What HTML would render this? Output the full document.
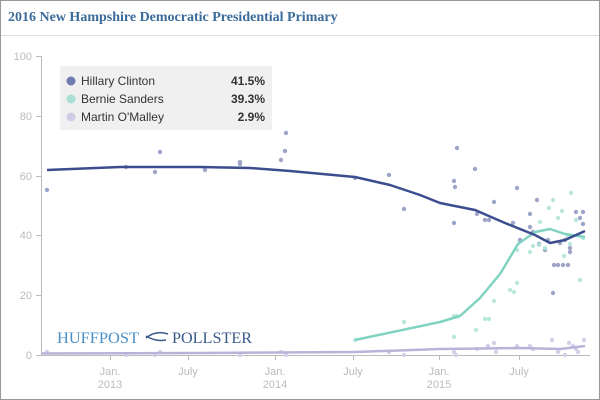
<!DOCTYPE html><html><head><style>
body{margin:0;background:#fff}
svg{display:block;font-family:"Liberation Sans",sans-serif}
</style></head><body>
<svg width="600" height="400" viewBox="0 0 600 400">
<rect x="0.5" y="0.5" width="599" height="399" fill="#fff" stroke="#999"/>
<text x="8" y="21" font-family="Liberation Serif,serif" font-weight="bold" font-size="14" fill="#3a6b9a">2016 New Hampshire Democratic Presidential Primary</text>
<line x1="1" y1="35.5" x2="599" y2="35.5" stroke="#ddd"/>
<g stroke="#bbb" fill="none">
<line x1="41.5" y1="56" x2="41.5" y2="355"/>
<line x1="36" y1="56.5" x2="41" y2="56.5"/><line x1="36" y1="116.5" x2="41" y2="116.5"/><line x1="36" y1="176.5" x2="41" y2="176.5"/><line x1="36" y1="235.5" x2="41" y2="235.5"/><line x1="36" y1="295.5" x2="41" y2="295.5"/>
<line x1="36" y1="355.5" x2="590" y2="355.5"/>
<line x1="110.5" y1="355" x2="110.5" y2="360"/><line x1="188.5" y1="355" x2="188.5" y2="360"/><line x1="275.5" y1="355" x2="275.5" y2="360"/><line x1="353.5" y1="355" x2="353.5" y2="360"/><line x1="439.5" y1="355" x2="439.5" y2="360"/><line x1="519.5" y1="355" x2="519.5" y2="360"/>
</g>
<g font-size="11" fill="#bbb" text-anchor="end">
<text x="32" y="60">100</text><text x="32" y="120">80</text><text x="32" y="180">60</text><text x="32" y="239">40</text><text x="32" y="299">20</text><text x="32" y="359">0</text>
</g>
<g font-size="11" fill="#bbb" text-anchor="middle">
<text x="110" y="375">Jan.</text><text x="110" y="388">2013</text>
<text x="188" y="375">July</text>
<text x="275" y="375">Jan.</text><text x="275" y="388">2014</text>
<text x="353" y="375">July</text>
<text x="439" y="375">Jan.</text><text x="439" y="388">2015</text>
<text x="519" y="375">July</text>
</g>
<text x="57" y="343" font-family="Liberation Serif,serif" font-size="16" fill="#4a90c8" textLength="82" lengthAdjust="spacingAndGlyphs">HUFFPOST</text>
<text x="172" y="343" font-family="Liberation Serif,serif" font-size="16" fill="#3a5a8a" textLength="80" lengthAdjust="spacingAndGlyphs">POLLSTER</text>
<path d="M146 338 q10 -8 22 -4 M146 336 q10 6 20 4" stroke="#3a5a8a" fill="none" stroke-width="1.5"/>
<g fill="#8e96c0" opacity="0.85">
<circle cx="47" cy="190" r="2.2"/><circle cx="126" cy="167" r="2.2"/><circle cx="155" cy="172" r="2.2"/><circle cx="160" cy="152" r="2.2"/><circle cx="205" cy="170" r="2.2"/><circle cx="240" cy="164" r="2.2"/><circle cx="240" cy="162" r="2.2"/><circle cx="281" cy="160" r="2.2"/><circle cx="286" cy="133" r="2.2"/><circle cx="285" cy="151" r="2.2"/><circle cx="355" cy="178" r="2.2"/><circle cx="389" cy="175" r="2.2"/><circle cx="404" cy="209" r="2.2"/><circle cx="454" cy="181" r="2.2"/><circle cx="455" cy="187" r="2.2"/><circle cx="457" cy="148" r="2.2"/><circle cx="454" cy="223" r="2.2"/><circle cx="475" cy="169" r="2.2"/><circle cx="494" cy="202" r="2.2"/><circle cx="477" cy="214" r="2.2"/><circle cx="485" cy="220" r="2.2"/><circle cx="489" cy="220" r="2.2"/><circle cx="517" cy="188" r="2.2"/><circle cx="530" cy="214" r="2.2"/><circle cx="530" cy="227" r="2.2"/><circle cx="533" cy="232" r="2.2"/><circle cx="513" cy="223" r="2.2"/><circle cx="539" cy="244" r="2.2"/><circle cx="545" cy="250" r="2.2"/><circle cx="548" cy="240" r="2.2"/><circle cx="554" cy="265" r="2.2"/><circle cx="553" cy="293" r="2.2"/><circle cx="558" cy="265" r="2.2"/><circle cx="563" cy="265" r="2.2"/><circle cx="568" cy="265" r="2.2"/><circle cx="570" cy="248" r="2.2"/><circle cx="570" cy="236" r="2.2"/><circle cx="576" cy="212" r="2.2"/><circle cx="583" cy="212" r="2.2"/><circle cx="580" cy="218" r="2.2"/><circle cx="583" cy="224" r="2.2"/><circle cx="570" cy="252" r="2.2"/><circle cx="565" cy="240" r="2.2"/><circle cx="537" cy="200" r="2.2"/><circle cx="520" cy="240" r="2.2"/><circle cx="560" cy="243" r="2.2"/></g>
<g fill="#b2e5da" opacity="0.9">
<circle cx="355" cy="340" r="2.2"/><circle cx="404" cy="322" r="2.2"/><circle cx="454" cy="316" r="2.2"/><circle cx="457" cy="316" r="2.2"/><circle cx="454" cy="337" r="2.2"/><circle cx="476" cy="330" r="2.2"/><circle cx="485" cy="319" r="2.2"/><circle cx="489" cy="319" r="2.2"/><circle cx="494" cy="301" r="2.2"/><circle cx="510" cy="290" r="2.2"/><circle cx="514" cy="292" r="2.2"/><circle cx="517" cy="283" r="2.2"/><circle cx="517" cy="250" r="2.2"/><circle cx="530" cy="252" r="2.2"/><circle cx="533" cy="246" r="2.2"/><circle cx="539" cy="245" r="2.2"/><circle cx="540" cy="222" r="2.2"/><circle cx="549" cy="208" r="2.2"/><circle cx="553" cy="200" r="2.2"/><circle cx="558" cy="218" r="2.2"/><circle cx="562" cy="211" r="2.2"/><circle cx="564" cy="256" r="2.2"/><circle cx="568" cy="236" r="2.2"/><circle cx="570" cy="244" r="2.2"/><circle cx="571" cy="193" r="2.2"/><circle cx="576" cy="220" r="2.2"/><circle cx="580" cy="280" r="2.2"/><circle cx="583" cy="238" r="2.2"/><circle cx="545" cy="248" r="2.2"/></g>
<g fill="#d4d0e8">
<circle cx="47" cy="352" r="2.2"/><circle cx="126" cy="355" r="2.2"/><circle cx="155" cy="355" r="2.2"/><circle cx="160" cy="352" r="2.2"/><circle cx="240" cy="355" r="2.2"/><circle cx="281" cy="352" r="2.2"/><circle cx="286" cy="355" r="2.2"/><circle cx="389" cy="352" r="2.2"/><circle cx="404" cy="355" r="2.2"/><circle cx="454" cy="352" r="2.2"/><circle cx="456" cy="355" r="2.2"/><circle cx="477" cy="349" r="2.2"/><circle cx="488" cy="346" r="2.2"/><circle cx="494" cy="343" r="2.2"/><circle cx="496" cy="352" r="2.2"/><circle cx="517" cy="346" r="2.2"/><circle cx="530" cy="346" r="2.2"/><circle cx="533" cy="349" r="2.2"/><circle cx="552" cy="340" r="2.2"/><circle cx="558" cy="352" r="2.2"/><circle cx="565" cy="355" r="2.2"/><circle cx="569" cy="343" r="2.2"/><circle cx="576" cy="349" r="2.2"/><circle cx="578" cy="352" r="2.2"/><circle cx="584" cy="340" r="2.2"/><circle cx="573" cy="346" r="2.2"/></g>
<g fill="none" stroke-width="2.5" stroke-linejoin="round">
<path stroke="#b9b3da" d="M41 353.5 L200 353 L355 352 L440 349 L520 348 L560 349 L585 346"/>
<path stroke="#7fd3c0" d="M355 340 L440 322 L460 316 L480 298 L500 274 L518 244 L535 232 L550 229 L565 234 L585 237"/>
<path stroke="#3b4d8e" d="M47 170 L120 167 L200 167 L250 168 L290 171 L355 177 L390 185 L420 195 L440 203 L475 210 L505 223 L535 235 L550 243 L565 240 L585 231"/>
</g>
<rect x="60" y="66" width="212" height="64" fill="#f0f0f0"/>
<g font-size="12" fill="#333">
<circle cx="71" cy="81" r="4.5" fill="#6e7cb0"/><text x="81" y="85">Hillary Clinton</text><text x="265" y="85" text-anchor="end" font-weight="bold">41.5%</text>
<circle cx="71" cy="99" r="4.5" fill="#a8e0d4"/><text x="81" y="103">Bernie Sanders</text><text x="265" y="103" text-anchor="end" font-weight="bold">39.3%</text>
<circle cx="71" cy="117" r="4.5" fill="#d0cce6"/><text x="81" y="121">Martin O'Malley</text><text x="265" y="121" text-anchor="end" font-weight="bold">2.9%</text>
</g>
</svg>
</body></html>
